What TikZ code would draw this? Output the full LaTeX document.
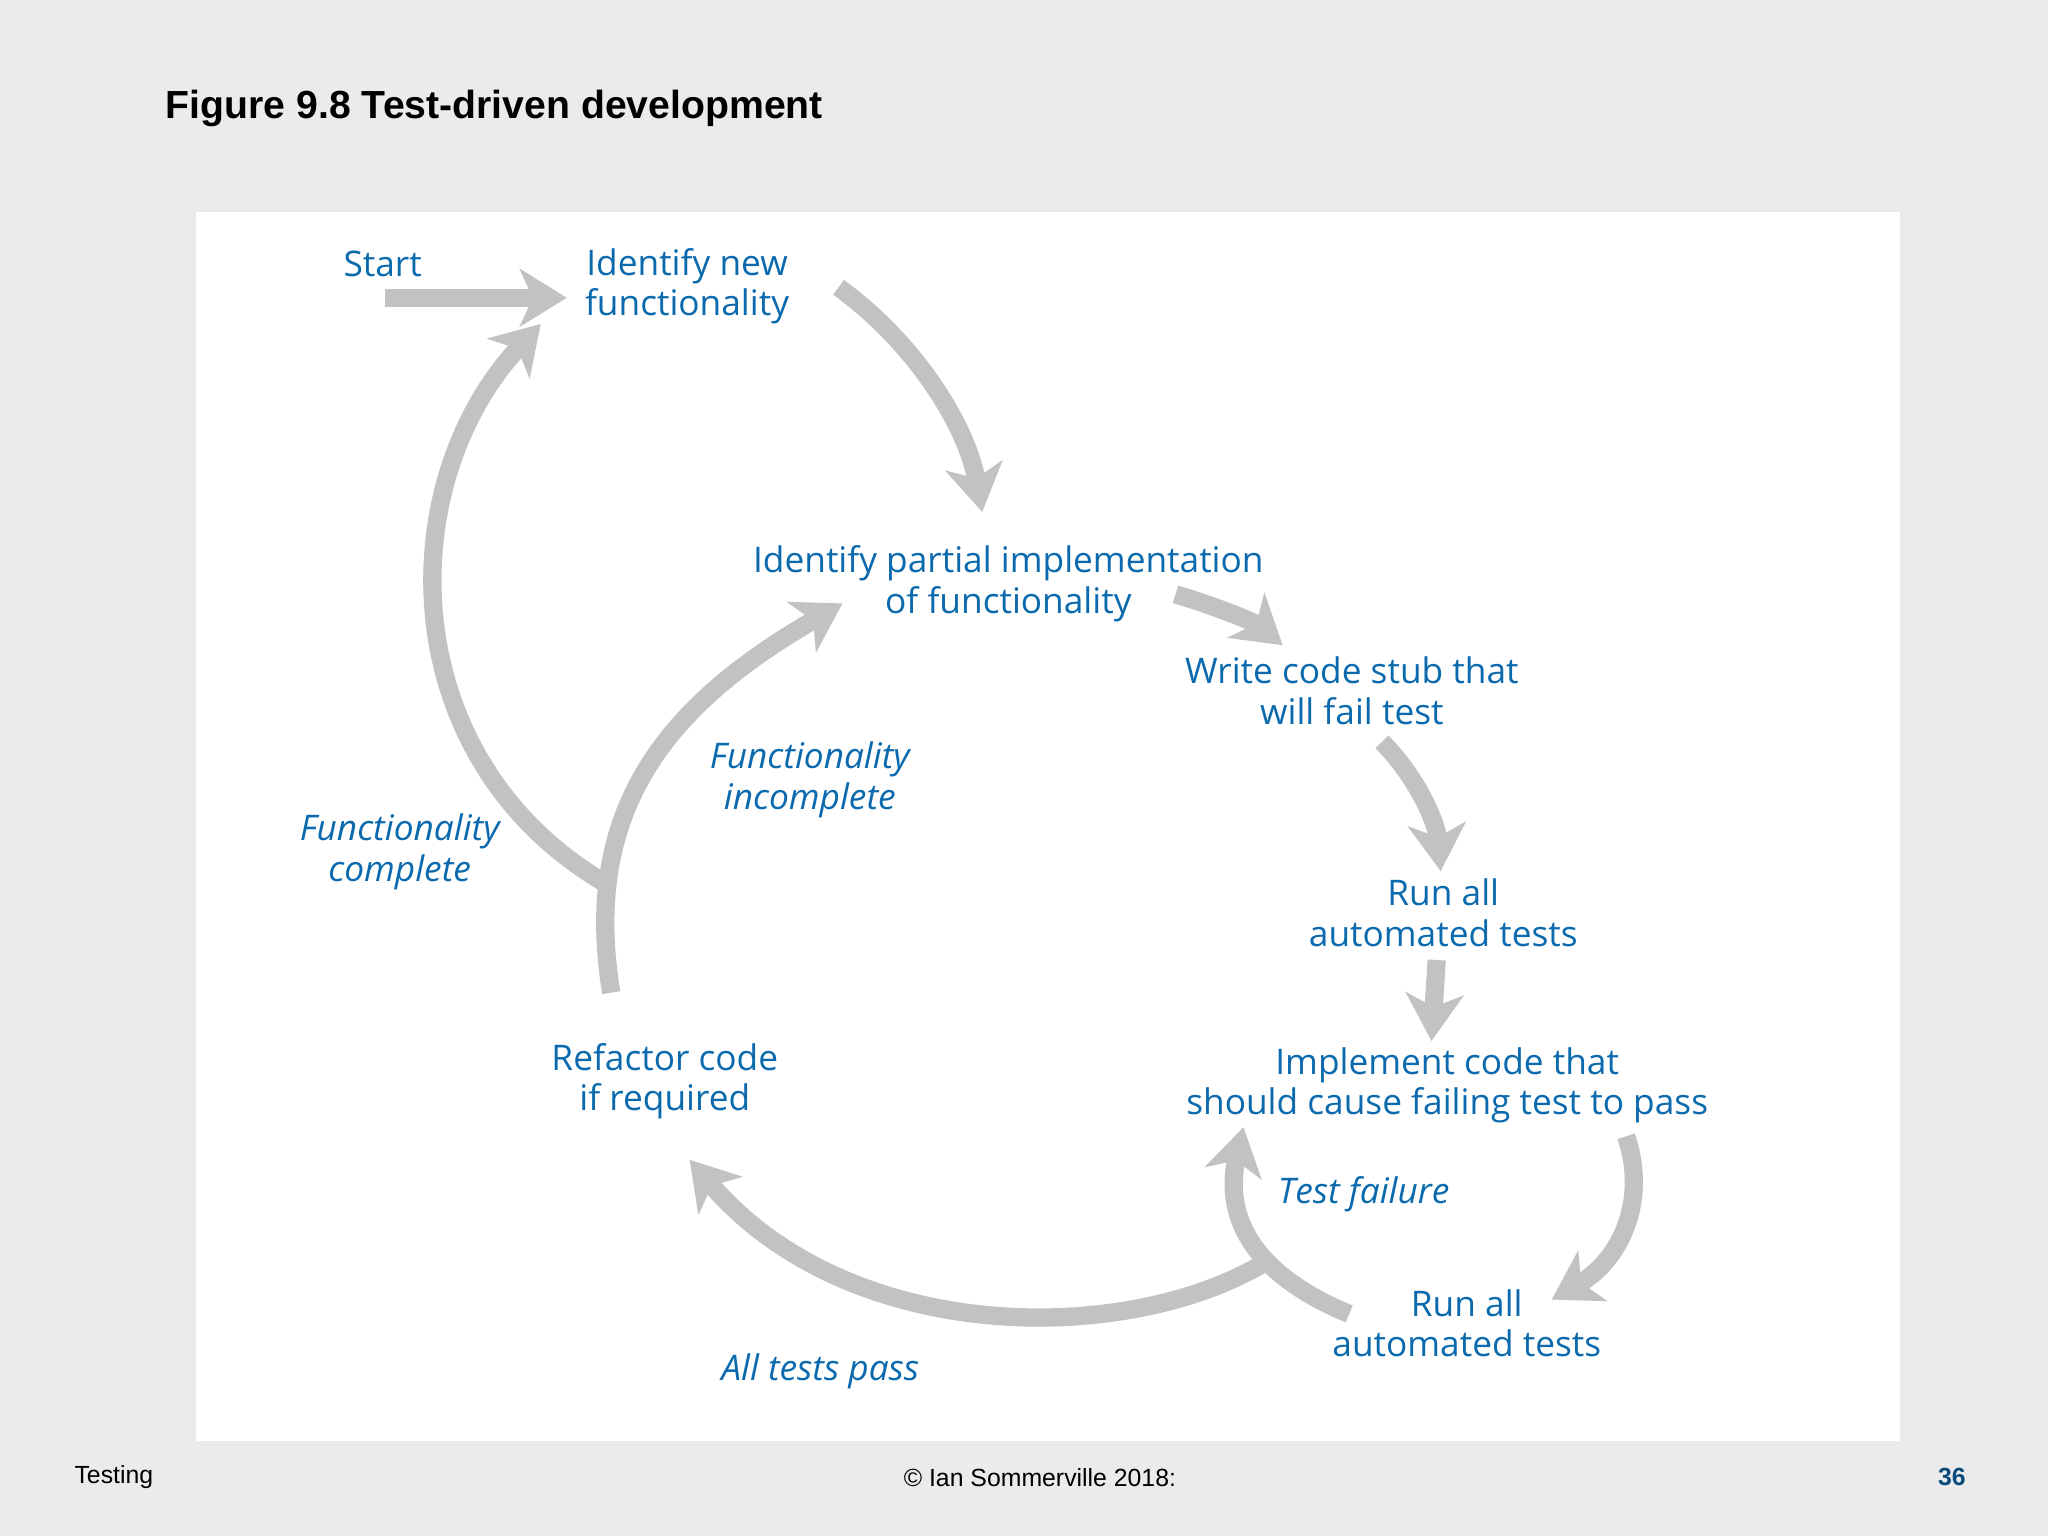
\documentclass[tikz,border=0pt]{standalone}
\usepackage{fontspec}
\setmainfont{Open Sans}
\newfontfamily\hel{Liberation Sans}
\usetikzlibrary{arrows.meta}
\definecolor{bg}{HTML}{EBEBEB}
\definecolor{tblue}{HTML}{0B6AAE}
\definecolor{agray}{HTML}{C2C2C4}
\tikzset{
  lbl/.style={text=tblue,font=\fontsize{13.5}{15.5}\selectfont,align=center},
  ilbl/.style={lbl,font=\fontsize{13.5}{15.5}\selectfont\itshape},
  flow/.style={draw=agray,line width=7pt,-{Stealth[length=18pt,width=22pt,inset=5pt]}},
  foot/.style={font=\hel\fontsize{9.5}{11}\selectfont,anchor=west}
}
\begin{document}
\begin{tikzpicture}[x=0.5pt,y=-0.5pt]
\fill[bg] (0,0) rectangle (1568,1176);
\useasboundingbox (0,0) rectangle (1568,1176);
\fill[white] (150,162) rectangle (1455,1103);
\node[anchor=west,font=\hel\bfseries\fontsize{15}{18}\selectfont] (title) at (120,83) {Figure 9.8 Test-driven development};

\node[lbl] (start) at (293,202) {Start};
\node[lbl] (idnew) at (526,219) {Identify new\\ functionality};
\node[lbl] (idpart) at (772,447) {Identify partial implementation\\of functionality};
\node[lbl] (stub) at (1035,529) {Write code stub that\\will fail test};
\node[lbl] (run1) at (1105,699) {Run all\\automated tests};
\node[lbl] (impl) at (1108,831) {Implement code that\\should cause failing test to pass};
\node[lbl] (run2) at (1123,1013) {Run all\\automated tests};
\node[lbl] (refac) at (509,828) {Refactor code\\if required};
\node[ilbl] (finc) at (620,597) {Functionality\\incomplete};
\node[ilbl] (fcomp) at (306,652) {Functionality\\complete};
\node[ilbl] (tfail) at (1044,914) {Test failure};
\node[ilbl] (tpass) at (628,1050) {All tests pass};

\coordinate (s0) at (295,228); \coordinate (s1) at (434,228);
\coordinate (a0) at (642,220); \coordinate (a1) at (752,392);
\coordinate (b0) at (900,455); \coordinate (b1) at (982,494);
\coordinate (c0) at (1058,568); \coordinate (c1) at (1103,667);
\coordinate (d0) at (1100,735); \coordinate (d1) at (1096,797);
\coordinate (e0) at (1245,870); \coordinate (e1) at (1188,995);
\coordinate (f0) at (1033,1006); \coordinate (f1) at (952,863);
\coordinate (g0) at (966,968); \coordinate (g1) at (528,888);
\coordinate (h0) at (468,760); \coordinate (h1) at (645,462);
\coordinate (k0) at (463,676); \coordinate (k1) at (414,248);

\draw[flow] (s0) -- (s1);
\draw[flow] (a0) .. controls (700,262) and (740,325) .. (a1);
\draw[flow] (b0) .. controls (930,464) and (960,476) .. (b1);
\draw[flow] (c0) .. controls (1085,595) and (1100,630) .. (c1);
\draw[flow] (d0) -- (d1);
\draw[flow] (e0) .. controls (1262,920) and (1240,965) .. (e1);
\draw[flow] (f0) .. controls (970,980) and (935,940) .. (f1);
\draw[flow] (g0) .. controls (860,1030) and (650,1030) .. (g1);
\draw[flow] (h0) .. controls (445,620) and (510,540) .. (h1);
\draw[flow] (k0) .. controls (300,580) and (300,370) .. (k1);

\node[foot] (ft1) at (50,1131) {Testing};
\node[foot] (ft2) at (685,1131) {© Ian Sommerville 2018:};
\node[foot,anchor=east,font=\hel\bfseries\fontsize{9.5}{11}\selectfont,text=tblue!70!black] (ft3) at (1512,1131) {36};
\end{tikzpicture}
\end{document}
